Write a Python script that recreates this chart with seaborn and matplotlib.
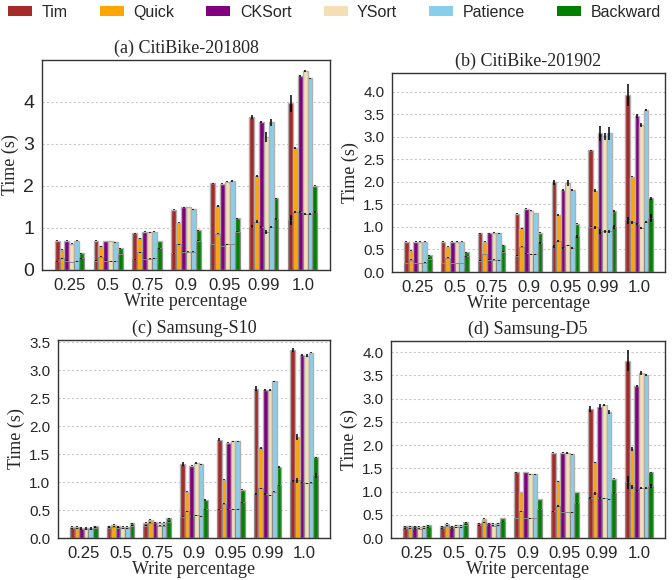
import matplotlib
matplotlib.use("Agg")
import matplotlib.pyplot as plt
from matplotlib.patches import Patch
from matplotlib.container import BarContainer
import pandas as pd
import seaborn as sns

percentages = ["0.25", "0.5", "0.75", "0.9", "0.95", "0.99", "1.0"]
algorithms = ["Tim", "Quick", "CKSort", "YSort", "Patience", "Backward"]
colors = ["brown", "orange", "purple", "wheat", "skyblue", "green"]
titles = ["(a) CitiBike-201808", "(b) CitiBike-201902",
          "(c) Samsung-S10", "(d) Samsung-D5"]

# rows: Tim, Quick, CKSort, YSort, Patience, Backward ; cols: percentages
a_total = [[0.70, 0.70, 0.87, 1.44, 2.06, 3.65, 3.97],
           [0.48, 0.56, 0.75, 1.13, 1.53, 2.24, 2.90],
           [0.70, 0.69, 0.91, 1.49, 2.05, 3.52, 4.62],
           [0.63, 0.69, 0.90, 1.50, 2.10, 3.16, 4.74],
           [0.70, 0.66, 0.91, 1.45, 2.12, 3.52, 4.56],
           [0.40, 0.52, 0.69, 0.95, 1.23, 1.71, 2.01]]
a_total_err = [[.01, .01, .01, .02, .02, .05, .20],
               [.01, .01, .01, .01, .02, .02, .03],
               [.01, .01, .01, .01, .01, .02, .03],
               [.01, .01, .01, .01, .01, .12, .03],
               [.01, .01, .01, .01, .02, .08, .02],
               [.01, .01, .01, .01, .01, .01, .02]]
a_part = [[0.21, 0.22, 0.25, 0.40, 0.62, 1.03, 1.18],
          [0.28, 0.32, 0.42, 0.61, 0.86, 1.15, 1.38],
          [0.22, 0.22, 0.27, 0.44, 0.57, 1.03, 1.38],
          [0.19, 0.21, 0.27, 0.44, 0.61, 0.91, 1.34],
          [0.21, 0.21, 0.28, 0.44, 0.62, 1.03, 1.34],
          [0.28, 0.38, 0.52, 0.70, 0.91, 1.21, 1.38]]
a_part_err = [[.01, .01, .01, .01, .01, .03, .12],
              [.01, .01, .01, .01, .01, .03, .03],
              [.01, .01, .01, .01, .01, .02, .02],
              [.01, .01, .01, .01, .01, .05, .02],
              [.01, .01, .01, .01, .01, .02, .02],
              [.01, .01, .01, .01, .01, .02, .02]]

b_total = [[0.67, 0.67, 0.86, 1.29, 1.99, 2.70, 3.93],
           [0.47, 0.56, 0.67, 0.97, 1.26, 1.81, 2.12],
           [0.67, 0.67, 0.86, 1.41, 1.82, 3.08, 3.46],
           [0.67, 0.67, 0.87, 1.36, 1.98, 3.01, 3.27],
           [0.67, 0.67, 0.86, 1.31, 1.82, 3.08, 3.60],
           [0.37, 0.44, 0.59, 0.87, 1.07, 1.36, 1.64]]
b_total_err = [[.01, .01, .01, .01, .05, .02, .25],
               [.01, .01, .01, .01, .02, .03, .02],
               [.01, .01, .01, .02, .02, .17, .04],
               [.01, .01, .01, .01, .06, .07, .04],
               [.01, .01, .01, .01, .02, .15, .02],
               [.01, .01, .01, .01, .01, .02, .03]]
b_part = [[0.20, 0.20, 0.25, 0.36, 0.57, 1.01, 1.15],
          [0.27, 0.32, 0.40, 0.56, 0.69, 0.99, 1.10],
          [0.20, 0.20, 0.27, 0.42, 0.53, 0.90, 1.07],
          [0.20, 0.20, 0.27, 0.39, 0.59, 0.90, 0.98],
          [0.21, 0.20, 0.26, 0.39, 0.53, 0.90, 1.11],
          [0.29, 0.35, 0.45, 0.64, 0.79, 1.00, 1.20]]
b_part_err = [[.01, .01, .01, .01, .03, .02, .08],
              [.01, .01, .01, .01, .02, .04, .03],
              [.01, .01, .01, .01, .02, .05, .02],
              [.01, .01, .01, .01, .02, .04, .02],
              [.01, .01, .01, .01, .02, .04, .02],
              [.01, .01, .01, .02, .03, .05, .08]]

c_total = [[0.20, 0.21, 0.27, 1.32, 1.76, 2.67, 3.36],
           [0.20, 0.24, 0.33, 0.83, 1.04, 1.61, 1.81],
           [0.18, 0.21, 0.28, 1.29, 1.70, 2.64, 3.27],
           [0.18, 0.20, 0.27, 1.34, 1.73, 2.64, 3.26],
           [0.18, 0.20, 0.27, 1.32, 1.73, 2.80, 3.31],
           [0.21, 0.26, 0.35, 0.68, 0.86, 1.27, 1.44]]
c_total_err = [[.01, .01, .01, .03, .03, .04, .03],
               [.01, .01, .01, .01, .01, .01, .05],
               [.01, .01, .01, .01, .01, .02, .02],
               [.01, .01, .01, .01, .01, .02, .03],
               [.01, .01, .01, .01, .01, .01, .01],
               [.01, .01, .01, .01, .01, .01, .01]]
c_part = [[0.17, 0.18, 0.22, 0.38, 0.51, 0.79, 1.02],
          [0.17, 0.20, 0.27, 0.48, 0.61, 0.89, 1.03],
          [0.16, 0.18, 0.23, 0.39, 0.51, 0.78, 1.00],
          [0.16, 0.17, 0.22, 0.41, 0.51, 0.76, 0.98],
          [0.16, 0.17, 0.22, 0.39, 0.51, 0.83, 0.99],
          [0.18, 0.22, 0.29, 0.51, 0.64, 0.94, 1.12]]
c_part_err = [[.01, .01, .01, .01, .01, .02, .02],
              [.01, .01, .01, .01, .01, .01, .04],
              [.01, .01, .01, .01, .01, .02, .01],
              [.01, .01, .01, .01, .01, .01, .01],
              [.01, .01, .01, .01, .01, .01, .01],
              [.01, .01, .01, .01, .01, .01, .04]]

d_total = [[0.25, 0.25, 0.32, 1.41, 1.84, 2.78, 3.82],
           [0.25, 0.31, 0.41, 0.99, 1.22, 1.63, 1.92],
           [0.25, 0.25, 0.32, 1.42, 1.84, 2.83, 3.28],
           [0.24, 0.27, 0.31, 1.37, 1.83, 2.87, 3.55],
           [0.25, 0.27, 0.32, 1.37, 1.80, 2.71, 3.50],
           [0.27, 0.34, 0.43, 0.84, 0.99, 1.28, 1.41]]
d_total_err = [[.01, .01, .01, .01, .02, .06, .22],
               [.01, .01, .01, .01, .01, .01, .04],
               [.01, .01, .01, .01, .01, .06, .02],
               [.01, .01, .01, .01, .02, .02, .05],
               [.01, .01, .01, .01, .01, .05, .02],
               [.01, .01, .01, .01, .01, .01, .01]]
d_part = [[0.21, 0.21, 0.27, 0.43, 0.58, 0.86, 1.20],
          [0.21, 0.26, 0.34, 0.58, 0.68, 0.96, 1.10],
          [0.21, 0.21, 0.27, 0.43, 0.57, 0.87, 1.02],
          [0.20, 0.23, 0.26, 0.42, 0.56, 0.86, 1.07],
          [0.21, 0.23, 0.27, 0.43, 0.55, 0.83, 1.07],
          [0.23, 0.29, 0.36, 0.62, 0.75, 0.96, 1.12]]
d_part_err = [[.01, .01, .01, .01, .01, .02, .14],
              [.01, .01, .01, .01, .02, .03, .05],
              [.01, .01, .01, .01, .01, .02, .02],
              [.01, .01, .01, .01, .01, .01, .02],
              [.01, .01, .01, .01, .01, .02, .02],
              [.01, .01, .01, .01, .01, .02, .04]]

panels = [
    (a_total, a_total_err, a_part, a_part_err, 5.0, [0, 1, 2, 3, 4], ["0", "1", "2", "3", "4"], 14),
    (b_total, b_total_err, b_part, b_part_err, 4.42, [0, .5, 1, 1.5, 2, 2.5, 3, 3.5, 4],
     ["0.0", "0.5", "1.0", "1.5", "2.0", "2.5", "3.0", "3.5", "4.0"], 11),
    (c_total, c_total_err, c_part, c_part_err, 3.54, [0, .5, 1, 1.5, 2, 2.5, 3, 3.5],
     ["0.0", "0.5", "1.0", "1.5", "2.0", "2.5", "3.0", "3.5"], 11),
    (d_total, d_total_err, d_part, d_part_err, 4.24, [0, .5, 1, 1.5, 2, 2.5, 3, 3.5, 4],
     ["0.0", "0.5", "1.0", "1.5", "2.0", "2.5", "3.0", "3.5", "4.0"], 11),
]

# axes rectangles in pixels: left, top, right, bottom
W, H = 672, 580
rects_px = [(42, 60, 330, 270), (392, 73, 665, 272), (58, 340, 330, 538), (391, 341, 665, 538)]


def long_df(values):
    rows = []
    for alg, vals in zip(algorithms, values):
        for p, v in zip(percentages, vals):
            rows.append({"pct": p, "alg": alg, "t": v})
    return pd.DataFrame(rows)


sns.set_style("whitegrid", {"grid.linestyle": (0, (2, 2)), "grid.color": "#c8c8c8",
                            "axes.edgecolor": "#333333"})
plt.rcParams["font.family"] = ["Liberation Sans", "DejaVu Sans"]
serif = ["Liberation Serif", "DejaVu Serif"]

fig = plt.figure(figsize=(W / 100, H / 100), dpi=100)

for (tot, tot_err, part, part_err, ytop, yt, ytl, yfs), (l, t, r, b), title in zip(panels, rects_px, titles):
    ax = fig.add_axes([l / W, 1 - b / H, (r - l) / W, (b - t) / H])
    sns.barplot(data=long_df(tot), x="pct", y="t", hue="alg", order=percentages,
                hue_order=algorithms, palette=colors, saturation=1, width=0.75,
                edgecolor="#b0b0b0", linewidth=1.0, errorbar=None, legend=False, ax=ax)
    sns.barplot(data=long_df(part), x="pct", y="t", hue="alg", order=percentages,
                hue_order=algorithms, palette=["#8a8a8a"] * 6, saturation=1, width=0.75,
                fill=False, linewidth=0.7, errorbar=None, legend=False, ax=ax)
    bars = [c for c in ax.containers if isinstance(c, BarContainer)]
    for conts, errs in ((bars[:6], tot_err), (bars[6:12], part_err)):
        for cont, e in zip(conts, errs):
            xs = [p.get_x() + p.get_width() / 2 for p in cont]
            ys = [p.get_y() + p.get_height() for p in cont]
            ax.errorbar(xs, ys, yerr=e, fmt="none", ecolor="black", elinewidth=1.1,
                        capsize=0, zorder=6)
    ax.set_xlim(-0.7, 6.7)
    ax.set_ylim(0, ytop)
    ax.set_yticks(yt)
    ax.set_yticklabels(ytl, fontsize=yfs)
    ax.tick_params(axis="x", labelsize=12, pad=2)
    ax.tick_params(axis="y", pad=2)
    ax.xaxis.grid(False)
    ax.yaxis.grid(True, linewidth=0.8)
    ax.set_axisbelow(True)
    for s in ax.spines.values():
        s.set_linewidth(1.0)
    ax.set_title(title, family=serif, fontsize=13, pad=5)
    ax.set_xlabel("Write percentage", family=serif, fontsize=13, labelpad=0)
    ax.set_ylabel("Time (s)", family=serif, fontsize=13, labelpad=3)

handles = [Patch(facecolor=c, edgecolor="none") for c in colors]
fig.legend(handles, algorithms, loc="center", bbox_to_anchor=(0.498, 0.979), ncol=6,
           frameon=False, fontsize=11.5, handlelength=1.5, handleheight=0.65,
           handletextpad=0.6, columnspacing=2.0, borderaxespad=0)

fig.savefig("out.png", dpi=100)
